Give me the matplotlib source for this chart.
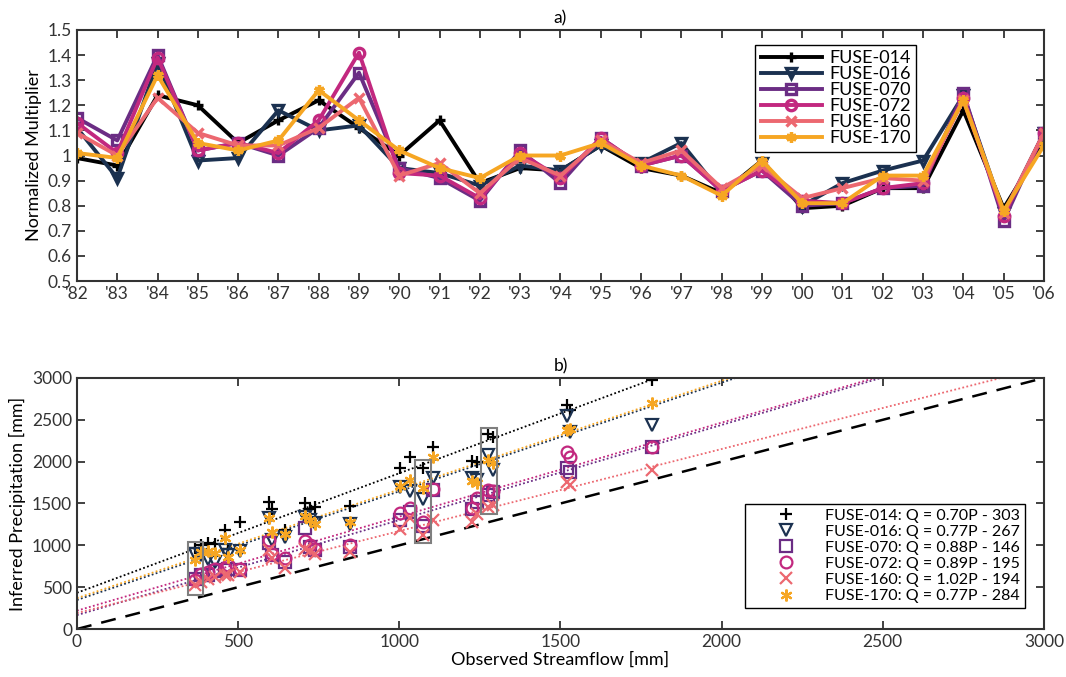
import numpy as np
import matplotlib
matplotlib.use("Agg")
import matplotlib.pyplot as plt
from matplotlib.patches import Rectangle
from matplotlib.ticker import FormatStrFormatter

plt.rcParams["font.family"] = ["Lato", "DejaVu Sans"]
plt.rcParams["font.size"] = 11

# ---- panel a: normalized precipitation multipliers per water year ----
years = ["'82", "'83", "'84", "'85", "'86", "'87", "'88", "'89", "'90", "'91",
         "'92", "'93", "'94", "'95", "'96", "'97", "'98", "'99", "'00", "'01",
         "'02", "'03", "'04", "'05", "'06"]

mult_014 = [0.99, 0.96, 1.24, 1.20, 1.05, 1.14, 1.22, 1.11, 1.00, 1.14, 0.89, 0.95, 0.94,
            1.04, 0.95, 0.92, 0.85, 0.98, 0.79, 0.80, 0.87, 0.87, 1.18, 0.79, 1.05]
mult_016 = [1.11, 0.91, 1.37, 0.98, 0.99, 1.18, 1.10, 1.12, 0.95, 0.93, 0.88, 0.96, 0.94,
            1.04, 0.97, 1.05, 0.85, 0.97, 0.80, 0.89, 0.94, 0.98, 1.24, 0.77, 1.09]
mult_070 = [1.15, 1.06, 1.40, 1.02, 1.05, 1.00, 1.11, 1.33, 0.95, 0.91, 0.82, 1.02, 0.89,
            1.07, 0.96, 1.00, 0.86, 0.94, 0.80, 0.81, 0.87, 0.88, 1.25, 0.74, 1.09]
mult_072 = [1.13, 1.01, 1.39, 1.02, 1.05, 1.01, 1.14, 1.41, 0.93, 0.92, 0.83, 1.01, 0.91,
            1.07, 0.96, 1.00, 0.86, 0.94, 0.82, 0.81, 0.87, 0.89, 1.23, 0.76, 1.09]
mult_160 = [1.09, 1.00, 1.23, 1.09, 1.04, 1.04, 1.11, 1.23, 0.92, 0.97, 0.85, 0.99, 0.92,
            1.06, 0.97, 1.02, 0.87, 0.96, 0.83, 0.87, 0.91, 0.90, 1.22, 0.77, 1.09]
mult_170 = [1.01, 0.99, 1.32, 1.05, 1.02, 1.06, 1.26, 1.14, 1.02, 0.95, 0.91, 1.00, 1.00,
            1.05, 0.96, 0.92, 0.84, 0.98, 0.81, 0.81, 0.92, 0.92, 1.22, 0.78, 1.04]

# ---- panel b: inferred precipitation against observed streamflow ----
obs_q = [366, 385, 405, 428, 459, 470, 506, 597, 605, 645, 707, 722, 738, 847,
         1002, 1033, 1074, 1105, 1225, 1240, 1275, 1290, 1520, 1530, 1784]

precip_014 = [965, 1000, 1030, 1010, 1180, 960, 1280, 1520, 1440, 1180, 1500, 1430, 1460,
              1470, 1920, 2060, 1930, 2180, 2010, 2000, 2330, 2300, 2680, 2620, 2980]
precip_016 = [900, 880, 840, 800, 950, 880, 930, 1330, 1060, 1100, 1340, 1300, 1270,
              1260, 1700, 1650, 1550, 1800, 1800, 1780, 2080, 1900, 2540, 2360, 2440]
precip_070 = [600, 640, 650, 690, 700, 720, 700, 1030, 880, 800, 1210, 980, 940,
              980, 1300, 1400, 1230, 1660, 1430, 1520, 1600, 1640, 1920, 1880, 2180]
precip_072 = [590, 660, 680, 720, 730, 760, 720, 1060, 900, 850, 1050, 1000, 960,
              1000, 1390, 1450, 1280, 1670, 1450, 1560, 1660, 1650, 2120, 2060, 2180]
precip_160 = [530, 560, 600, 620, 650, 640, 680, 950, 850, 730, 960, 930, 900,
              920, 1190, 1330, 1120, 1300, 1280, 1370, 1460, 1480, 1760, 1720, 1900]
precip_170 = [820, 920, 930, 910, 1090, 860, 950, 1330, 1160, 1140, 1350, 1300, 1260,
              1280, 1710, 1780, 1690, 2060, 1770, 1750, 2020, 1980, 2380, 2390, 2700]

# fitted Q = slope * P - offset for each model
slopes = [0.70, 0.77, 0.88, 0.89, 1.02, 0.77]
offsets = [303, 267, 146, 195, 194, 284]

# highlighted years (streamflow range, precipitation range)
box_q = [(344, 391), (1049, 1098), (1253, 1303)]
box_p = [(406, 1040), (1028, 2020), (1374, 2402)]

models = ["FUSE-014", "FUSE-016", "FUSE-070", "FUSE-072", "FUSE-160", "FUSE-170"]
colors = ["black", "#1b3150", "#6b2d84", "#c2287f", "#ec6870", "#f6a623"]
markers = ["+", "v", "s", "o", "x", (6, 2, 0)]
multipliers = [mult_014, mult_016, mult_070, mult_072, mult_160, mult_170]
precips = [precip_014, precip_016, precip_070, precip_072, precip_160, precip_170]

fig = plt.figure(figsize=(10.66, 6.77), dpi=100)
ax_a = fig.add_axes([0.0722, 0.5849, 0.9071, 0.3708])
ax_b = fig.add_axes([0.0722, 0.0709, 0.9071, 0.3708])

xpos = np.arange(len(years))
for name, c, m, vals in zip(models, colors, markers, multipliers):
    filled = m in ["+", "x", (6, 2, 0)]
    ax_a.plot(xpos, vals, color=c, lw=2.8, marker=m, markersize=7.5,
              markeredgewidth=2.4, markerfacecolor=c if filled else "none",
              label=name)

ax_a.set_xlim(0, len(years) - 1)
ax_a.set_ylim(0.5, 1.5)
ax_a.set_xticks(xpos, labels=years)
ax_a.set_yticks(np.arange(0.5, 1.51, 0.1))
ax_a.yaxis.set_major_formatter(FormatStrFormatter("%g"))
ax_a.set_ylabel("Normalized Multiplier", fontsize=13)
ax_a.set_title("a)", fontsize=12.5, pad=5)
leg_a = ax_a.legend(loc="upper right", bbox_to_anchor=(0.868, 0.94), fontsize=13,
                    handlelength=3.4, handletextpad=0.4, labelspacing=0.0,
                    borderpad=0.3, borderaxespad=0, fancybox=False, framealpha=1)
leg_a.get_frame().set_edgecolor("black")
leg_a.get_frame().set_linewidth(1.0)

# one-to-one reference line and fitted lines
qline = np.linspace(0, 3000, 301)
ax_b.plot(qline, qline, color="black", lw=1.8, dashes=(6, 4))
for c, a, b in zip(colors, slopes, offsets):
    ax_b.plot(qline, (qline + b) / a, color=c, lw=1.3, linestyle=(0, (1, 1.3)))

for name, c, m, p, a, b in zip(models, colors, markers, precips, slopes, offsets):
    filled = m in ["+", "x", (6, 2, 0)]
    ax_b.plot(obs_q, p, linestyle="none", marker=m, color=c, markersize=8.5,
              markeredgewidth=1.6, markerfacecolor=c if filled else "none",
              label=f"{name}: Q = {a:.2f}P - {b}")

for (q0, q1), (p0, p1) in zip(box_q, box_p):
    ax_b.add_patch(Rectangle((q0, p0), q1 - q0, p1 - p0, fill=False,
                             edgecolor="#7f7f7f", lw=1.5, zorder=5))

ax_b.set_xlim(0, 3000)
ax_b.set_ylim(0, 3000)
ax_b.set_xticks(np.arange(0, 3001, 500))
ax_b.set_yticks(np.arange(0, 3001, 500))
ax_b.set_xlabel("Observed Streamflow [mm]", fontsize=13, labelpad=1)
ax_b.set_ylabel("Inferred Precipitation [mm]", fontsize=13)
ax_b.set_title("b)", fontsize=12.5, pad=5)
leg_b = ax_b.legend(loc="lower right", bbox_to_anchor=(0.980, 0.084), fontsize=11.5,
                    handlelength=4.6, handletextpad=0.1, labelspacing=0.12,
                    borderpad=0.3, borderaxespad=0, fancybox=False, framealpha=1)
leg_b.get_frame().set_edgecolor("black")
leg_b.get_frame().set_linewidth(1.0)

for ax in (ax_a, ax_b):
    ax.tick_params(direction="in", top=True, right=True, length=6, width=1.3,
                   labelsize=12.5, colors="#333333")
    for sp in ax.spines.values():
        sp.set_linewidth(1.5)
        sp.set_color("#333333")

fig.savefig("out.png", dpi=100)
